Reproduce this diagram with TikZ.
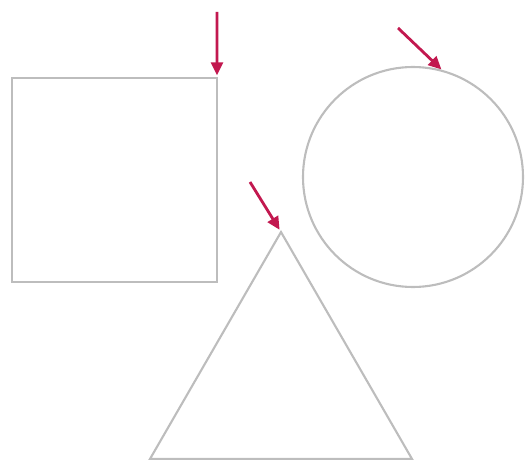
\documentclass[tikz,border=0pt]{standalone}
\usepackage{tikz}
\usetikzlibrary{shapes.geometric, arrows.meta, positioning, calc}
\usepackage{xcolor}
\definecolor{outlinegray}{HTML}{BDBDBD}
\definecolor{pointred}{HTML}{C2184F}
\tikzset{
  outline/.style={
    draw=outlinegray, line width=1.2pt, inner sep=0pt, outer sep=0pt
  },
  pointer/.style={-{Triangle[length=2.6mm, width=2.4mm]}, line width=1.6pt,
    draw=pointred, shorten >=1.5pt}
}

\begin{document}
\begin{tikzpicture}
        \useasboundingbox (0,0) rectangle (10.5,-9.24);
        \node[outline, rectangle, minimum width=4.1cm,
              minimum height=4.08cm] (square) at (2.29,-3.6) {};
        \node[outline, circle, minimum size=4.4cm] (ring) at (8.26,-3.54) {};
        \node[outline, regular polygon, regular polygon sides=3,
              minimum size=6.05cm] (tri) at (5.62,-7.666) {};
        % tails of the pointers
        \coordinate (p1) at (4.34,-0.24);
        \coordinate (p2) at (7.96,-0.56);
        \coordinate (p3) at (5.0,-3.64);
        \draw[pointer] (p1) -- (square.north east);
        \draw[pointer] (p2) -- (ring.74);
        \draw[pointer] (p3) -- (tri.corner 1);
      \end{tikzpicture}
\end{document}
